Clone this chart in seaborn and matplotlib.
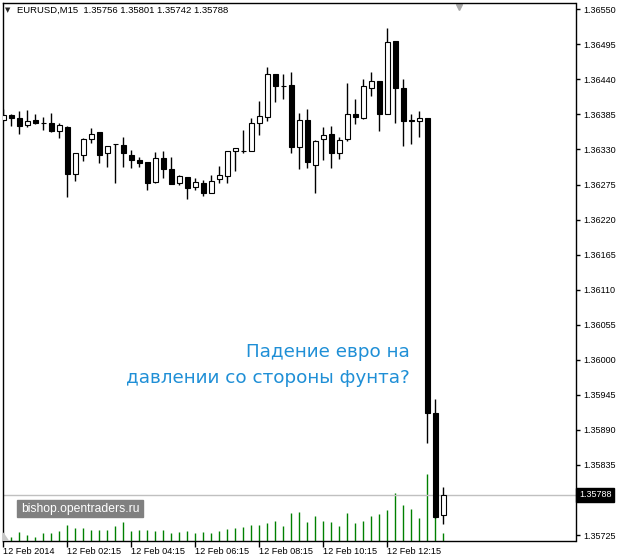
import matplotlib
matplotlib.use("Agg")
import matplotlib.pyplot as plt
import matplotlib.patches as mpatches
import seaborn as sns
import numpy as np

# EURUSD M15 candles, 12 Feb 2014, first bar 00:15
opens = [1.36377, 1.36384, 1.36379, 1.36369, 1.36376, 1.36371, 1.36372, 1.36359,
         1.36366, 1.36292, 1.36322, 1.36347, 1.36357, 1.36324, 1.36338, 1.36337,
         1.36321, 1.36313, 1.36310, 1.36279, 1.36317, 1.36300, 1.36278, 1.36287,
         1.36271, 1.36277, 1.36261, 1.36283, 1.36289, 1.36327, 1.36328, 1.36328,
         1.36371, 1.36381, 1.36448, 1.36430, 1.36431, 1.36334, 1.36376, 1.36306,
         1.36346, 1.36354, 1.36324, 1.36346, 1.36386, 1.36380, 1.36427, 1.36437,
         1.36386, 1.36500, 1.36426, 1.36376, 1.36375, 1.36379, 1.35916, 1.35756]
highs = [1.36393, 1.36386, 1.36390, 1.36392, 1.36386, 1.36381, 1.36388, 1.36372,
         1.36367, 1.36324, 1.36348, 1.36363, 1.36357, 1.36335, 1.36339, 1.36349,
         1.36329, 1.36318, 1.36311, 1.36326, 1.36328, 1.36319, 1.36290, 1.36287,
         1.36286, 1.36282, 1.36290, 1.36304, 1.36327, 1.36332, 1.36360, 1.36380,
         1.36406, 1.36460, 1.36448, 1.36448, 1.36452, 1.36388, 1.36394, 1.36345,
         1.36365, 1.36367, 1.36350, 1.36434, 1.36409, 1.36441, 1.36451, 1.36437,
         1.36520, 1.36500, 1.36441, 1.36386, 1.36391, 1.36379, 1.35938, 1.35801]
lows = [1.36374, 1.36367, 1.36355, 1.36365, 1.36370, 1.36361, 1.36358, 1.36348,
        1.36256, 1.36281, 1.36312, 1.36340, 1.36309, 1.36303, 1.36278, 1.36303,
        1.36301, 1.36302, 1.36267, 1.36278, 1.36285, 1.36276, 1.36274, 1.36252,
        1.36267, 1.36257, 1.36261, 1.36277, 1.36277, 1.36297, 1.36325, 1.36328,
        1.36352, 1.36375, 1.36405, 1.36409, 1.36325, 1.36299, 1.36301, 1.36262,
        1.36314, 1.36301, 1.36315, 1.36343, 1.36370, 1.36378, 1.36414, 1.36359,
        1.36386, 1.36372, 1.36335, 1.36338, 1.36350, 1.35869, 1.35752, 1.35742]
closes = [1.36384, 1.36379, 1.36367, 1.36374, 1.36371, 1.36371, 1.36359, 1.36368,
          1.36292, 1.36324, 1.36347, 1.36355, 1.36322, 1.36335, 1.36338, 1.36324,
          1.36313, 1.36309, 1.36278, 1.36317, 1.36299, 1.36276, 1.36288, 1.36270,
          1.36279, 1.36262, 1.36281, 1.36290, 1.36327, 1.36332, 1.36328, 1.36371,
          1.36382, 1.36448, 1.36430, 1.36430, 1.36334, 1.36376, 1.36311, 1.36343,
          1.36352, 1.36325, 1.36345, 1.36386, 1.36381, 1.36429, 1.36438, 1.36386,
          1.36499, 1.36427, 1.36375, 1.36374, 1.36379, 1.35916, 1.35754, 1.35788]
volumes = [90, 120, 250, 170, 120, 220, 220, 300, 480, 370, 370, 330, 320, 330,
           430, 570, 300, 330, 330, 280, 330, 220, 250, 300, 220, 270, 220, 280,
           340, 370, 400, 480, 480, 540, 600, 450, 820, 870, 550, 730, 600, 570,
           450, 820, 520, 600, 730, 810, 930, 1420, 1060, 950, 690, 2000, 1050, 220]

time_ticks = [0, 8, 16, 24, 32, 40, 48]
time_labels = ["12 Feb 2014", "12 Feb 02:15", "12 Feb 04:15", "12 Feb 06:15",
               "12 Feb 08:15", "12 Feb 10:15", "12 Feb 12:15"]
price_ticks = [1.36550, 1.36495, 1.36440, 1.36385, 1.36330, 1.36275, 1.36220,
               1.36165, 1.36110, 1.36055, 1.36000, 1.35945, 1.35890, 1.35835,
               1.35725]
note_lines = ["Падение евро на", "давлении со стороны фунта?"]

sns.set_theme(style="white")
plt.rcParams["font.family"] = ["Liberation Sans", "DejaVu Sans"]

W, H = 617, 555
fig = plt.figure(figsize=(W / 100, H / 100), dpi=100)
fig.patch.set_facecolor("white")
rect = [3 / W, 14.5 / H, 572.5 / W, 537.5 / H]

# volumes sit in their own axes behind the price chart
vax = fig.add_axes(rect)
ax = fig.add_axes(rect)
ax.patch.set_visible(False)

x = np.arange(len(opens))
o = np.array(opens)
c = np.array(closes)

vax.vlines(x, 0, volumes, color="#008000", lw=1)
vax.set_xlim(-0.04, 71.5)
vax.set_ylim(0, 537.5 * 30)
vax.axis("off")

ax.axhline(closes[-1], color="#c0c0c0", lw=1, zorder=1)
ax.vlines(x, lows, highs, color="black", lw=1, zorder=2)
ax.bar(x, c - o, bottom=o, width=0.62,
       color=np.where(c >= o, "white", "black"),
       edgecolor="black", linewidth=0.8, zorder=3)

ax.set_xlim(-0.04, 71.5)
ax.set_ylim(1.357164, 1.365599)

ax.yaxis.tick_right()
ax.set_yticks(price_ticks)
ax.set_yticklabels([f"{p:.5f}" for p in price_ticks])
ax.tick_params(axis="y", right=True, left=False, direction="out", length=3,
               width=1, pad=2.5, labelsize=6.5, colors="black")
ax.set_xticks(time_ticks)
ax.set_xticklabels(time_labels, ha="left")
ax.tick_params(axis="x", bottom=True, direction="out", length=4, width=1,
               pad=1, labelsize=6.6, colors="black")
for s in ax.spines.values():
    s.set_color("black")
    s.set_linewidth(1)

# current price marker on the right
ax.text(1.006, closes[-1], f"{closes[-1]:.5f}", transform=ax.get_yaxis_transform(),
        ha="left", va="center", fontsize=6.5, color="white",
        bbox=dict(boxstyle="square,pad=0.3", fc="black", ec="black"))

# header
fig.text(5 / W, 1 - 10 / H, "▼", fontsize=5, family="DejaVu Sans", va="center")
fig.text(17 / W, 1 - 10 / H,
         f"EURUSD,M15  {opens[-1]:.5f} {highs[-1]:.5f} {lows[-1]:.5f} {closes[-1]:.5f}",
         fontsize=6.8, va="center", color="black")

# chart shift marker and corner mark
ax.plot(0.7965, 0.992, marker="v", color="#a8a8a8", ms=5, transform=ax.transAxes,
        clip_on=False)
ax.add_patch(mpatches.Polygon([[0, 0], [0, 0.014], [0.009, 0]], closed=True,
                              transform=ax.transAxes, color="#c8c8c8", zorder=4))

# watermark
ax.add_patch(mpatches.Rectangle((0.0245, 0.0437), 126 / 572.5, 17 / 537.5,
                                transform=ax.transAxes, color="#808080", zorder=4))
ax.text(0.0245 + 63 / 572.5, 0.0437 + 8.5 / 537.5, "bishop.opentraders.ru",
        transform=ax.transAxes, ha="center", va="center", fontsize=8.7,
        color="white", zorder=5)

# blue comment
for i, line in enumerate(note_lines):
    ax.text((410 - 3) / 572.5, (540.5 - (352 + 26 * i)) / 537.5, line,
            transform=ax.transAxes, ha="right", va="center", fontsize=13.2,
            color="#1f8fd6", family=["DejaVu Sans"])

fig.savefig("out.png", dpi=100)
